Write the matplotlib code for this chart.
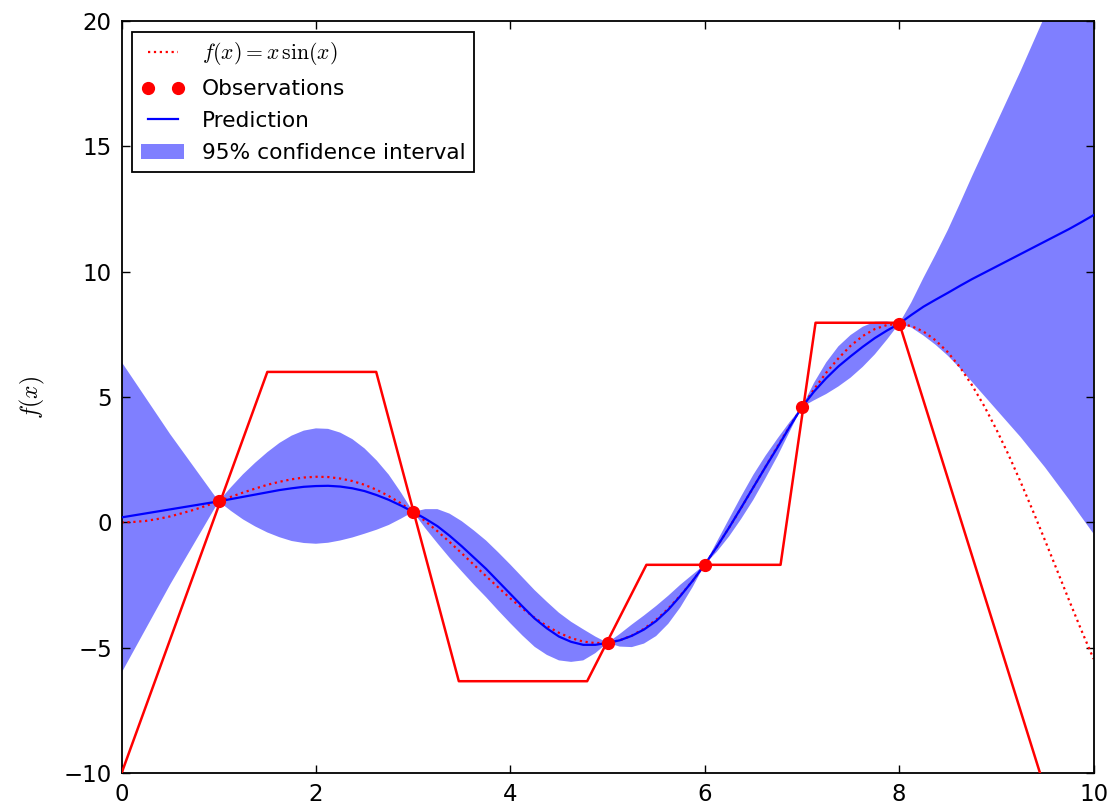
"""
Gaussian process regression plot: f(x) = x sin(x), observations,
GP prediction with 95% band, plus a red piecewise-linear overlay.
"""

import matplotlib
matplotlib.use("Agg")
import matplotlib.pyplot as plt

plt.rcParams['font.family'] = ['DejaVu Sans']
plt.rcParams['mathtext.fontset'] = 'cm'

x_grid = [0.0, 0.125, 0.25, 0.375, 0.5, 0.625, 0.75, 0.875,
          1.0, 1.125, 1.25, 1.375, 1.5, 1.625, 1.75, 1.875,
          2.0, 2.125, 2.25, 2.375, 2.5, 2.625, 2.75, 2.875,
          3.0, 3.125, 3.25, 3.375, 3.5, 3.625, 3.75, 3.875,
          4.0, 4.125, 4.25, 4.375, 4.5, 4.625, 4.75, 4.875,
          5.0, 5.125, 5.25, 5.375, 5.5, 5.625, 5.75, 5.875,
          6.0, 6.125, 6.25, 6.375, 6.5, 6.625, 6.75, 6.875,
          7.0, 7.125, 7.25, 7.375, 7.5, 7.625, 7.75, 7.875,
          8.0, 8.125, 8.25, 8.375, 8.5, 8.625, 8.75, 8.875,
          9.0, 9.125, 9.25, 9.375, 9.5, 9.625, 9.75, 9.875, 10.0]

# true function (dotted red)
f_true = [0.0, 0.02, 0.06, 0.14, 0.24, 0.37, 0.51, 0.67,
          0.84, 1.02, 1.19, 1.35, 1.50, 1.62, 1.72, 1.79,
          1.82, 1.81, 1.75, 1.65, 1.50, 1.30, 1.05, 0.76,
          0.42, 0.05, -0.35, -0.78, -1.23, -1.69, -2.14, -2.59,
          -3.03, -3.43, -3.80, -4.13, -4.40, -4.61, -4.75, -4.81,
          -4.79, -4.70, -4.51, -4.24, -3.88, -3.44, -2.91, -2.33,
          -1.68, -0.97, -0.21, 0.58, 1.40, 2.22, 3.04, 3.84,
          4.60, 5.31, 5.97, 6.54, 7.04, 7.43, 7.71, 7.87,
          7.91, 7.83, 7.61, 7.26, 6.79, 6.19, 5.47, 4.64,
          3.71, 2.70, 1.61, 0.47, -0.71, -1.91, -3.12, -4.30, -5.44]

# GP prediction (blue line)
y_pred = [0.20, 0.28, 0.36, 0.44, 0.52, 0.60, 0.68, 0.76,
          0.84, 0.93, 1.02, 1.11, 1.20, 1.29, 1.36, 1.42,
          1.45, 1.46, 1.43, 1.36, 1.25, 1.09, 0.90, 0.67,
          0.42, 0.15, -0.15, -0.53, -0.95, -1.40, -1.85, -2.35,
          -2.85, -3.35, -3.83, -4.22, -4.55, -4.76, -4.88, -4.88,
          -4.80, -4.70, -4.52, -4.27, -3.93, -3.48, -2.93, -2.33,
          -1.68, -0.97, -0.21, 0.59, 1.40, 2.21, 3.00, 3.82,
          4.60, 5.22, 5.75, 6.22, 6.62, 7.00, 7.35, 7.65,
          7.92, 8.27, 8.60, 8.88, 9.15, 9.43, 9.70, 9.95,
          10.20, 10.45, 10.70, 10.95, 11.20, 11.45, 11.70, 11.97, 12.25]

# 95% confidence band edges
ci_upper = [6.40, 5.68, 4.96, 4.24, 3.52, 2.85, 2.18, 1.51,
            0.84, 1.40, 1.92, 2.38, 2.80, 3.17, 3.46, 3.66,
            3.75, 3.73, 3.58, 3.32, 2.95, 2.47, 1.90, 1.19,
            0.42, 0.53, 0.53, 0.35, 0.05, -0.32, -0.72, -1.19,
            -1.68, -2.19, -2.70, -3.16, -3.60, -3.96, -4.26, -4.55,
            -4.80, -4.45, -4.07, -3.71, -3.33, -2.92, -2.48, -2.08,
            -1.68, -0.77, 0.14, 1.04, 1.90, 2.66, 3.35, 4.01,
            4.60, 5.57, 6.38, 7.02, 7.47, 7.80, 8.00, 8.01,
            7.92, 8.77, 9.75, 10.68, 11.65, 12.71, 13.80, 14.85,
            15.90, 16.95, 18.00, 19.10, 20.20, 21.35, 22.50, 23.72, 24.95]
ci_lower = [-6.00, -5.12, -4.24, -3.36, -2.48, -1.65, -0.82, 0.01,
            0.84, 0.46, 0.12, -0.16, -0.40, -0.59, -0.74, -0.82,
            -0.85, -0.81, -0.72, -0.60, -0.45, -0.29, -0.10, 0.15,
            0.42, -0.23, -0.83, -1.41, -1.95, -2.48, -2.98, -3.51,
            -4.02, -4.51, -4.96, -5.28, -5.50, -5.56, -5.50, -5.21,
            -4.80, -4.95, -4.97, -4.83, -4.53, -4.04, -3.38, -2.58,
            -1.68, -1.17, -0.56, 0.14, 0.90, 1.76, 2.65, 3.63,
            4.60, 4.87, 5.12, 5.42, 5.77, 6.20, 6.70, 7.29,
            7.92, 7.77, 7.45, 7.08, 6.65, 6.15, 5.60, 5.05,
            4.50, 3.95, 3.40, 2.80, 2.20, 1.55, 0.90, 0.22, -0.45]

# observations
obs_x = [1.0, 3.0, 5.0, 6.0, 7.0, 8.0]
obs_y = [0.84, 0.42, -4.80, -1.68, 4.60, 7.92]

# red piecewise-linear overlay
poly_x = [0.0, 1.5, 2.62, 3.47, 4.79, 5.40, 6.78, 7.14, 8.0, 9.45]
poly_y = [-10.0, 6.0, 6.0, -6.33, -6.33, -1.69, -1.69, 7.96, 7.96, -10.0]

fig = plt.figure(figsize=(11.12, 8.07), dpi=100)
ax = fig.add_axes([0.1093, 0.0418, 0.8741, 0.9325])

ax.fill_between(x_grid, ci_lower, ci_upper, facecolor='b', edgecolor='none',
                alpha=0.5, label='95% confidence interval', zorder=1)
ax.plot(x_grid, f_true, 'r:', linewidth=1.6, label=r'$f(x) = x\,\sin(x)$', zorder=2)
ax.plot(x_grid, y_pred, 'b-', linewidth=1.6, label='Prediction', zorder=3)
ax.plot(poly_x, poly_y, color='r', linewidth=1.8, zorder=4)
ax.plot(obs_x, obs_y, 'o', color='r', markeredgecolor='r', markersize=8.5,
        label='Observations', zorder=5)

ax.set_xlim(0, 10)
ax.set_ylim(-10, 20)
ax.set_xticks([0, 2, 4, 6, 8, 10])
ax.set_yticks([-10, -5, 0, 5, 10, 15, 20])
ax.set_ylabel(r'$f(x)$', fontsize=17, labelpad=12)

ax.tick_params(direction='in', length=6, width=1, labelsize=16.5, pad=7,
               top=True, right=True)
for sp in ax.spines.values():
    sp.set_linewidth(1.3)

# legend order as in the original
h, l = ax.get_legend_handles_labels()
order = [l.index(r'$f(x) = x\,\sin(x)$'), l.index('Observations'),
         l.index('Prediction'), l.index('95% confidence interval')]
leg = ax.legend([h[i] for i in order], [l[i] for i in order], loc='upper left',
                fontsize=15.6, numpoints=2, fancybox=False, framealpha=1,
                edgecolor='black', handlelength=2.0, handletextpad=0.8,
                borderpad=0.4, labelspacing=0.55)
leg.get_frame().set_linewidth(1.3)

plt.savefig('out.png', dpi=100)
